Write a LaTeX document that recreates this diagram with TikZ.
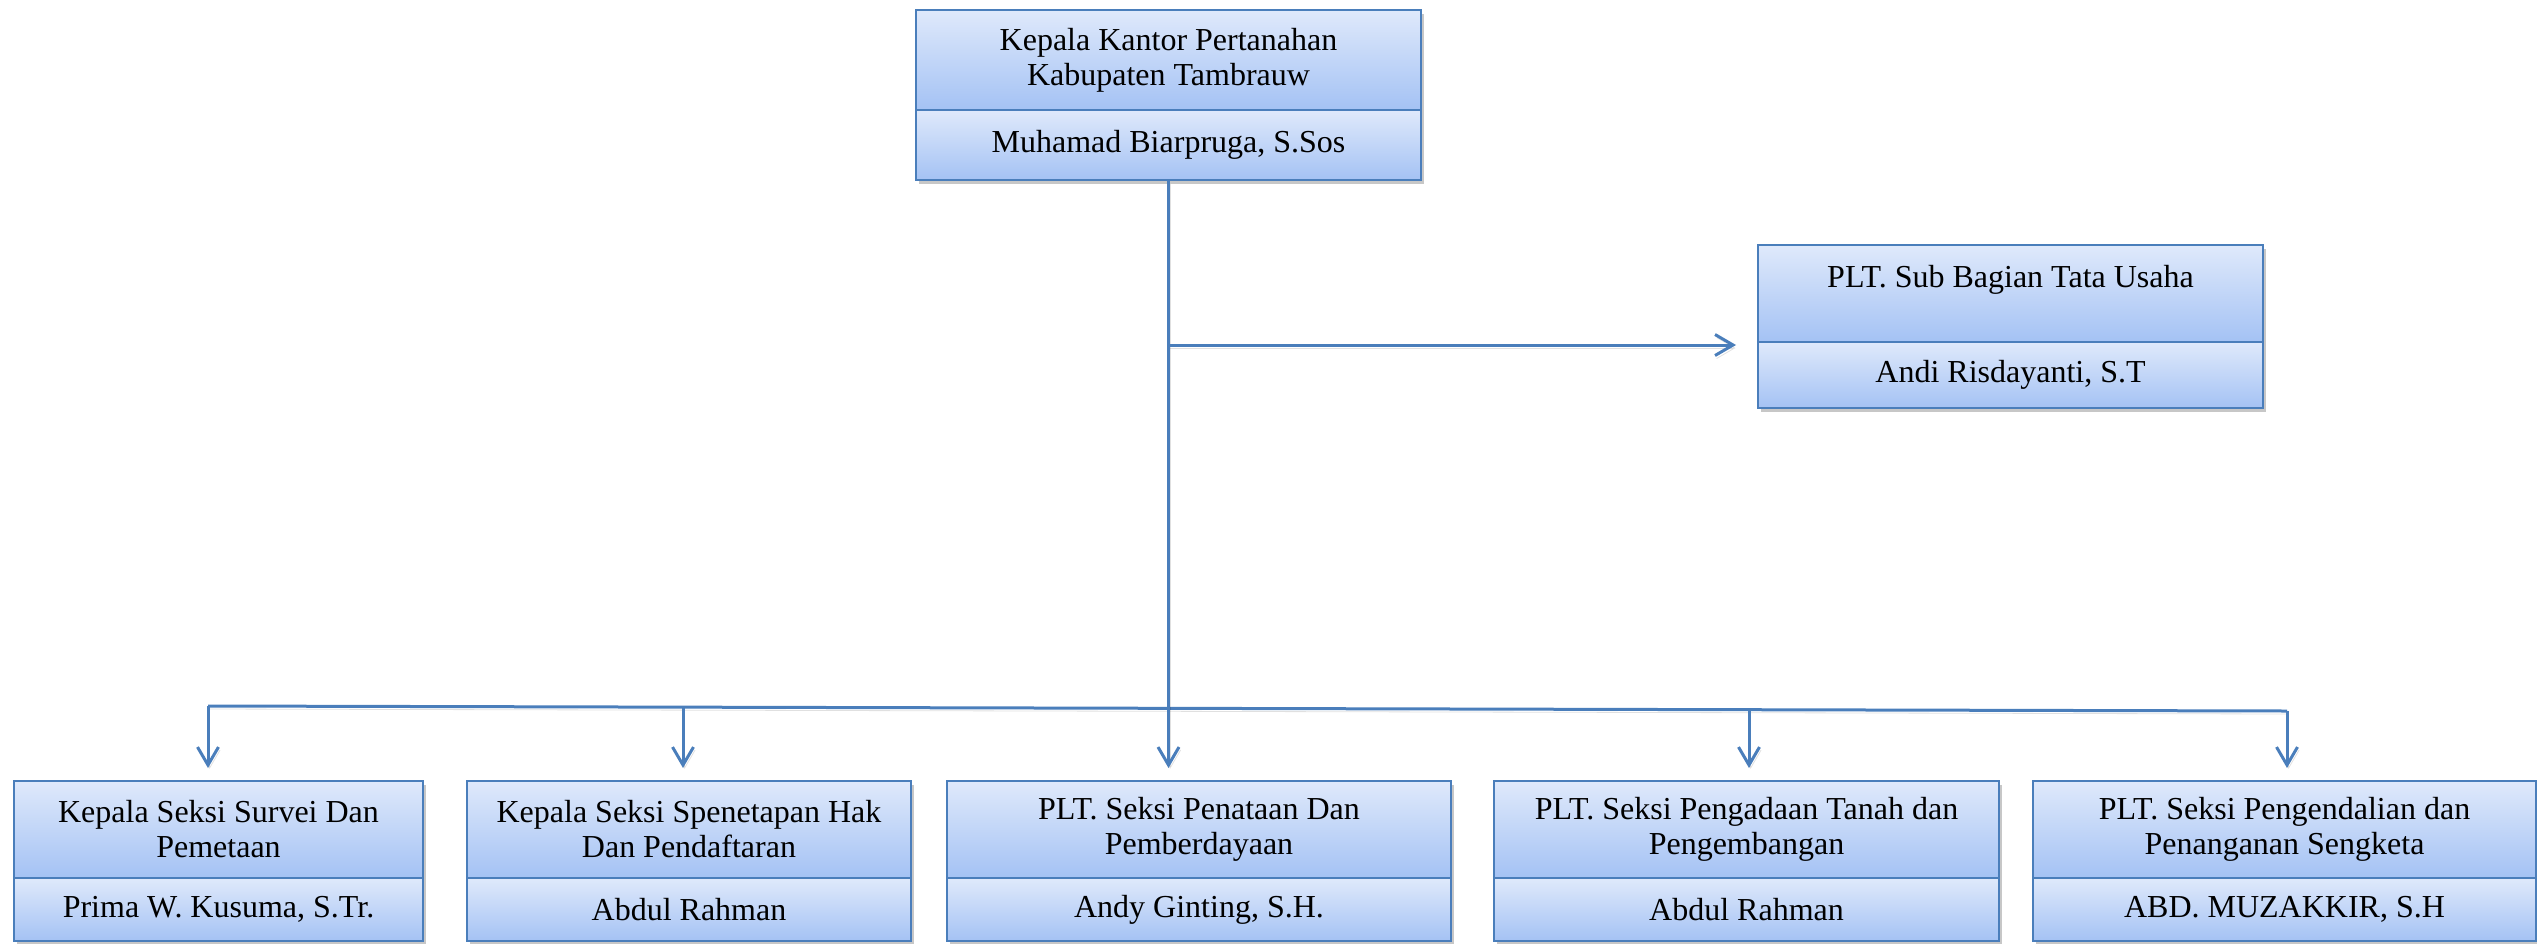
\documentclass[tikz,border=0pt]{standalone}
\usepackage{fontspec}
\setmainfont{Liberation Serif}
\usetikzlibrary{arrows.meta,shadows}
\definecolor{lineblue}{HTML}{4A7EBB}
\definecolor{boxtop}{HTML}{DFE9FB}
\definecolor{boxbot}{HTML}{A4C2F4}
\tikzset{
  part/.style={draw=lineblue, line width=1pt, top color=boxtop, bottom color=boxbot,
    align=center, inner sep=0pt, font=\fontsize{16}{17.5}\selectfont,
    drop shadow={shadow xshift=1.5pt, shadow yshift=-2pt, opacity=0.22, fill=black}},
  conn/.style={draw=lineblue, line width=1.5pt,
    preaction={draw=black, opacity=0.12, transform canvas={xshift=0.8pt,yshift=-1.5pt}}},
  arr/.style={conn, -{Straight Barb[length=9pt,width=10.5pt]}},
}
\begin{document}
\begin{tikzpicture}[x=0.5pt,y=-0.5pt]
\useasboundingbox (0,0) rectangle (2537,943);
% top
\node[part, minimum width=252.5pt, minimum height=50pt] (t0) at (1168.5,60) {Kepala Kantor Pertanahan\\Kabupaten Tambrauw};
\node[part, minimum width=252.5pt, minimum height=35pt] (n0) at (1168.5,145) {Muhamad Biarpruga, S.Sos};
% sub bagian
\node[part, minimum width=252.5pt, minimum height=48.5pt] (t1) at (2010.5,293.5) {PLT. Sub Bagian Tata Usaha\\\mbox{}};
\node[part, minimum width=252.5pt, minimum height=33pt] (n1) at (2010.5,375) {Andi Risdayanti, S.T};
% bottom row
\node[part, minimum width=204.5pt, minimum height=48.5pt] (b1t) at (218.5,829.5) {Kepala Seksi Survei Dan\\Pemetaan};
\node[part, minimum width=204.5pt, minimum height=31.5pt] (b1n) at (218.5,909.5) {Prima W. Kusuma, S.Tr.};
\node[part, minimum width=222pt, minimum height=48.5pt] (b2t) at (689,829.5) {Kepala Seksi Spenetapan Hak\\Dan Pendaftaran};
\node[part, minimum width=222pt, minimum height=31.5pt] (b2n) at (689,909.5) {Abdul Rahman};
\node[part, minimum width=252pt, minimum height=48.5pt] (b3t) at (1199,829.5) {PLT. Seksi Penataan Dan\\Pemberdayaan};
\node[part, minimum width=252pt, minimum height=31.5pt] (b3n) at (1199,909.5) {Andy Ginting, S.H.};
\node[part, minimum width=252.5pt, minimum height=48.5pt] (b4t) at (1746.5,829.5) {PLT. Seksi Pengadaan Tanah dan\\Pengembangan};
\node[part, minimum width=252.5pt, minimum height=31.5pt] (b4n) at (1746.5,909.5) {Abdul Rahman};
\node[part, minimum width=251.5pt, minimum height=48.5pt] (b5t) at (2284.5,829.5) {PLT. Seksi Pengendalian dan\\Penanganan Sengketa};
\node[part, minimum width=251.5pt, minimum height=31.5pt] (b5n) at (2284.5,909.5) {ABD. MUZAKKIR, S.H};
% connector points
\coordinate (bus1) at (208,706);
\coordinate (bus5) at (2287,711);
\coordinate (j2) at (683,707);
\coordinate (j4) at (1749,709.7);
\coordinate (a1) at (208,768);
\coordinate (a2) at (683,768);
\coordinate (a3) at (1168,768);
\coordinate (a4) at (1749,768);
\coordinate (a5) at (2287,768);
\coordinate (s1) at (1736,345);
% connectors
\draw[conn] (bus1) -- (bus5);
\draw[arr] (n0.south) -- (n0.south |- a3);
\draw[arr] (n0.south |- s1) -- (s1);
\draw[arr] (bus1) -- (a1);
\draw[arr] (j2) -- (a2);
\draw[arr] (j4) -- (a4);
\draw[arr] (bus5) -- (a5);
\end{tikzpicture}
\end{document}
